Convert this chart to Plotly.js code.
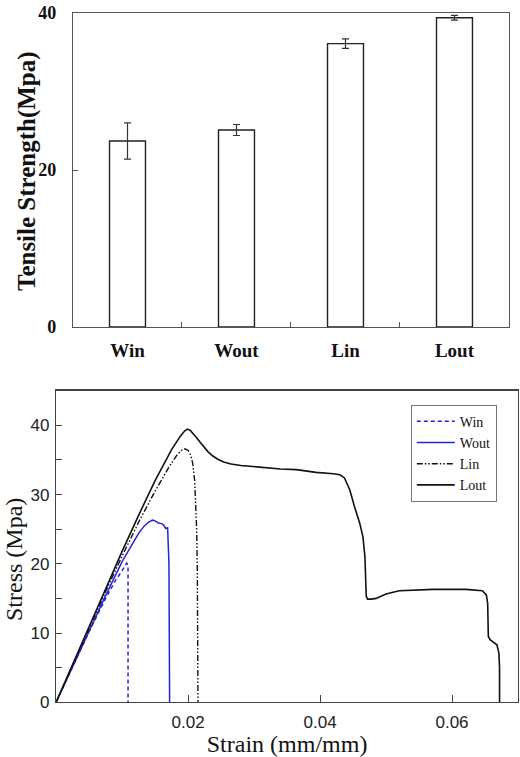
<!DOCTYPE html>
<html>
<head>
<meta charset="utf-8">
<script src="https://cdn.plot.ly/plotly-3.0.1.min.js"></script>
<style>html,body{margin:0;padding:0;background:#fff}#chart{width:520px;height:757px}</style>
</head>
<body>
<div id="chart"></div>
<script>
// ---- Top panel: tensile strength bars ----
const categories = ['Win', 'Wout', 'Lin', 'Lout'];
const strength = [23.7, 25.1, 36.1, 39.4];
const strengthErr = [2.3, 0.7, 0.6, 0.3];
const strengthTicks = [0, 20, 40];

// ---- Bottom panel: stress-strain curves ----
const winStrain = [0, 0.0025, 0.005, 0.0075, 0.009, 0.0100, 0.0107, 0.0109, 0.0109];
const winStress = [0, 5.1, 10.2, 15.0, 17.6, 19.0, 20.1, 19.8, 0];

const woutStrain = [0, 0.0025, 0.005, 0.0075, 0.0100, 0.0117, 0.0125, 0.0133, 0.0140, 0.0146, 0.0150, 0.0155, 0.0160, 0.0163, 0.0166, 0.0169, 0.0171, 0.0172];
const woutStress = [0, 5.2, 10.4, 15.4, 20.3, 23.2, 24.4, 25.4, 26.0, 26.3, 26.2, 25.9, 25.8, 25.6, 25.1, 25.2, 20.0, 0];

const linStrain = [0, 0.0025, 0.005, 0.0075, 0.010, 0.0125, 0.015, 0.0170, 0.0183, 0.0190, 0.0195, 0.0200, 0.0204, 0.0207, 0.0210, 0.0212, 0.0213, 0.0214, 0.0215, 0.0215];
const linStress = [0, 5.4, 10.8, 16.0, 21.1, 26.0, 30.5, 33.8, 35.7, 36.4, 36.6, 36.4, 35.7, 34.5, 32.0, 28.5, 25.0, 19.0, 10.0, 0];

const loutStrain = [0, 0.0025, 0.005, 0.0075, 0.010, 0.0125, 0.015, 0.0175, 0.0188, 0.0195, 0.0199, 0.0203, 0.0207, 0.0212, 0.0218, 0.0224, 0.0230, 0.0237, 0.0245, 0.0254, 0.0265, 0.0280, 0.0300, 0.0320, 0.0340, 0.0364, 0.0394, 0.0420, 0.0430, 0.0437, 0.0445, 0.0452, 0.0460, 0.0465, 0.0468, 0.0470, 0.0472, 0.0478, 0.0485, 0.0500, 0.0520, 0.0571, 0.0621, 0.0646, 0.0652, 0.0654, 0.0655, 0.0658, 0.0663, 0.0668, 0.0671, 0.0672, 0.0672];
const loutStress = [0, 5.5, 11.0, 16.5, 21.8, 27.0, 32.0, 36.5, 38.4, 39.2, 39.45, 39.3, 38.9, 38.3, 37.6, 36.9, 36.2, 35.6, 35.1, 34.7, 34.4, 34.2, 34.0, 33.85, 33.7, 33.6, 33.2, 33.0, 32.85, 32.4, 30.7, 28.3, 25.9, 23.9, 21.0, 15.3, 14.9, 14.9, 15.0, 15.65, 16.1, 16.3, 16.3, 16.1, 15.5, 14.3, 9.5, 9.0, 8.6, 8.3, 7.1, 5.0, 0];

const strainTicks = [0.02, 0.04, 0.06];
const stressTicks = [0, 10, 20, 30, 40];
const stressMinorTicks = [5, 15, 25, 35];

const serif = 'Liberation Serif, Times New Roman, serif';
const sans = 'Liberation Sans, Arial, sans-serif';
const blue = '#2424dc';
const black = '#111111';

const traces = [
  {
    type: 'bar', x: categories, y: strength, xaxis: 'x', yaxis: 'y',
    width: 0.33, showlegend: false,
    marker: {color: '#ffffff', line: {color: '#222222', width: 1.4}},
    error_y: {type: 'data', array: strengthErr, visible: true, color: '#333333', thickness: 1.2, width: 3.5}
  },
  {type: 'scatter', mode: 'lines', name: 'Win', x: winStrain, y: winStress, xaxis: 'x2', yaxis: 'y2',
   line: {color: blue, width: 1.5, dash: '4px,3px'}},
  {type: 'scatter', mode: 'lines', name: 'Wout', x: woutStrain, y: woutStress, xaxis: 'x2', yaxis: 'y2',
   line: {color: blue, width: 1.5}},
  {type: 'scatter', mode: 'lines', name: 'Lin', x: linStrain, y: linStress, xaxis: 'x2', yaxis: 'y2',
   line: {color: black, width: 1.4, dash: '6px,2px,1.5px,2px,1.5px,2px'}},
  {type: 'scatter', mode: 'lines', name: 'Lout', x: loutStrain, y: loutStress, xaxis: 'x2', yaxis: 'y2',
   line: {color: black, width: 1.6}}
];

const layout = {
  width: 520, height: 757,
  margin: {l: 0, r: 0, t: 0, b: 0},
  paper_bgcolor: '#ffffff', plot_bgcolor: '#ffffff',
  showlegend: true,
  xaxis: {
    domain: [0.1404, 0.9788], anchor: 'y', type: 'category',
    range: [-0.5, 3.5], tickson: 'boundaries',
    ticks: 'inside', ticklen: 5, tickcolor: '#555', tickwidth: 1,
    showline: true, linecolor: '#555', linewidth: 1.2, mirror: true,
    showgrid: false, zeroline: false,
    tickfont: {family: serif, size: 19, weight: 'bold', color: '#111'},
    ticklabelstandoff: 6
  },
  yaxis: {
    domain: [0.568, 0.9828], anchor: 'x',
    range: [0, 40], tickvals: strengthTicks,
    ticks: 'inside', ticklen: 5, tickcolor: '#555',
    showline: true, linecolor: '#555', linewidth: 1.2, mirror: true,
    showgrid: false, zeroline: false,
    tickfont: {family: serif, size: 18, weight: 'bold', color: '#111'},
    ticklabelstandoff: 12
  },
  xaxis2: {
    domain: [0.1079, 0.9962], anchor: 'y2',
    range: [0, 0.07], tickvals: strainTicks, ticktext: ['0.02', '0.04', '0.06'],
    ticks: 'inside', ticklen: 7, tickcolor: '#444',
    showline: true, linecolor: '#444', linewidth: 1.2, mirror: true,
    showgrid: false, zeroline: false,
    tickfont: {family: sans, size: 17, color: '#222'},
    ticklabelstandoff: 4,
    title: {text: 'Strain (mm/mm)', font: {family: serif, size: 24, color: '#111'}, standoff: 8}
  },
  yaxis2: {
    domain: [0.0723, 0.4839], anchor: 'x2',
    range: [0, 45], tickvals: stressTicks,
    ticks: 'inside', ticklen: 6, tickcolor: '#444',
    minor: {tickvals: stressMinorTicks, ticks: 'inside', ticklen: 6, tickcolor: '#444'},
    showline: true, linecolor: '#444', linewidth: 1.2, mirror: true,
    showgrid: false, zeroline: false,
    tickfont: {family: sans, size: 17, color: '#222'},
    ticklabelstandoff: 2
  },
  annotations: [
    {text: 'Tensile Strength(Mpa)', xref: 'paper', yref: 'paper', x: 27 / 520, y: (757 - 171) / 757,
     xanchor: 'center', yanchor: 'middle', textangle: -90, showarrow: false,
     font: {family: serif, size: 25, weight: 'bold', color: '#111'}},
    {text: 'Stress (Mpa)', xref: 'paper', yref: 'paper', x: 14 / 520, y: (757 - 560) / 757,
     xanchor: 'center', yanchor: 'middle', textangle: -90, showarrow: false,
     font: {family: serif, size: 24, color: '#111'}}
  ],
  legend: {
    x: 0.790, y: 0.4654, xanchor: 'left', yanchor: 'top',
    bgcolor: '#ffffff', bordercolor: '#777', borderwidth: 1,
    font: {family: serif, size: 14, color: '#111'},
    tracegroupgap: 0, itemwidth: 38
  }
};

Plotly.newPlot('chart', traces, layout, {displayModeBar: false, staticPlot: true});
</script>
</body>
</html>
